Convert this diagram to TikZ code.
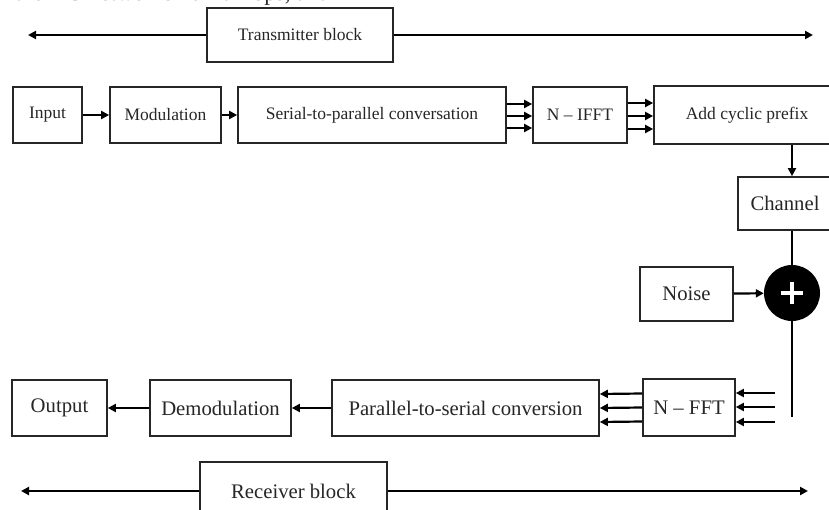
\documentclass[tikz,border=0pt]{standalone}
\usepackage{fontspec}
\setmainfont{Liberation Serif}
\usetikzlibrary{arrows.meta,calc}
\begin{document}
\begin{tikzpicture}[x=1pt,y=-1pt,
  box/.style={draw=black!85, line width=1.7pt, inner sep=0pt, minimum height=56pt, text=black!85, font=\fontsize{17.5}{20}\selectfont},
  bigbox/.style={box, font=\fontsize{20.7}{24}\selectfont},
  arr/.style={line width=2.2pt, -{Triangle[length=8pt,width=8pt]}},
  ln/.style={line width=2.2pt}]
\useasboundingbox (0,0) rectangle (829,510);
\clip (0,0) rectangle (829,510);

% clipped caption text at the very top
\node[anchor=base west, font=\fontsize{23}{26}\selectfont, inner sep=0pt, text=black!85] (cap) at (15,1) {the 4 G networks 10-20Mbps, and};

% transmitter label
\node[box, minimum width=186pt, minimum height=54pt] (tx) at (300,35) {Transmitter block};
\coordinate (txl) at (28,35);
\coordinate (txr) at (813,35);
\draw[arr] (tx) -- (txl);
\draw[arr] (tx) -- (txr);

% top row
\node[box, minimum width=69pt] (in) at (47.5,115) {Input};
\node[box, minimum width=111pt] (mod) at (165.5,115) {Modulation};
\node[box, minimum width=268pt] (s2p) at (372,115) {Serial-to-parallel conversation};
\node[box, minimum width=94pt] (ifft) at (580,115) {N -- IFFT};
\node[box, minimum width=186pt, minimum height=58pt] (acp) at (747,115) {Add cyclic prefix};

\draw[arr] (in) -- (mod);
\draw[arr] (mod) -- (s2p);
\foreach \d in {11,-1,-13}
  \draw[arr] ([yshift=\d pt]s2p.east) -- ([yshift=\d pt]ifft.west);
\foreach \d in {12,-1,-14}
  \draw[arr] ([yshift=\d pt]ifft.east) -- ([yshift=\d pt]acp.west);

% channel, noise, sum
\node[bigbox, minimum width=94pt, minimum height=53pt] (chan) at (785,203.5) {Channel};
\node[circle, fill=black, minimum size=56pt, inner sep=0pt] (sum) at (792,293) {};
\draw[white, line width=4pt] ($(sum)+(-11,0)$) -- ($(sum)+(11,0)$)
                             ($(sum)+(0,-11)$) -- ($(sum)+(0,11)$);
\node[bigbox, minimum width=93pt, minimum height=54pt] (noise) at (686.5,294) {Noise};

\coordinate (vx) at (792,0);
\coordinate (vend) at (792,417);
\draw[arr] (acp.south -| vx) -- (chan.north -| vx);
\draw[ln] (chan.south -| vx) -- (sum.north);
\draw[ln] (sum.south) -- (vend);
\draw[arr] (noise) -- (sum);

% bottom row
\node[bigbox, minimum width=92pt, minimum height=57pt] (fft) at (689,407.5) {N -- FFT};
\node[bigbox, minimum width=267pt] (p2s) at (465.5,408) {Parallel-to-serial conversion};
\node[bigbox, minimum width=141pt] (demod) at (220.5,408) {Demodulation};
\node[bigbox, minimum width=95pt] (out) at (59.5,408) {Output};

\coordinate (fin1) at (775,393);
\coordinate (fin2) at (775,407);
\coordinate (fin3) at (775,422);
\draw[arr] (fin1) -- (fin1 -| fft.east);
\draw[arr] (fin2) -- (fin2 -| fft.east);
\draw[arr] (fin3) -- (fin3 -| fft.east);
\foreach \d in {14,0,-14}
  \draw[arr] ([yshift=\d pt]fft.west) -- ([yshift=\d pt]p2s.east);
\draw[arr] (p2s) -- (demod);
\draw[arr] (demod) -- (out);

% receiver label
\node[bigbox, minimum width=187pt, minimum height=58pt] (rx) at (293.5,491) {Receiver block};
\coordinate (rxl) at (21,491);
\coordinate (rxr) at (808,491);
\draw[arr] (rx) -- (rxl);
\draw[arr] (rx) -- (rxr);
\end{tikzpicture}
\end{document}
